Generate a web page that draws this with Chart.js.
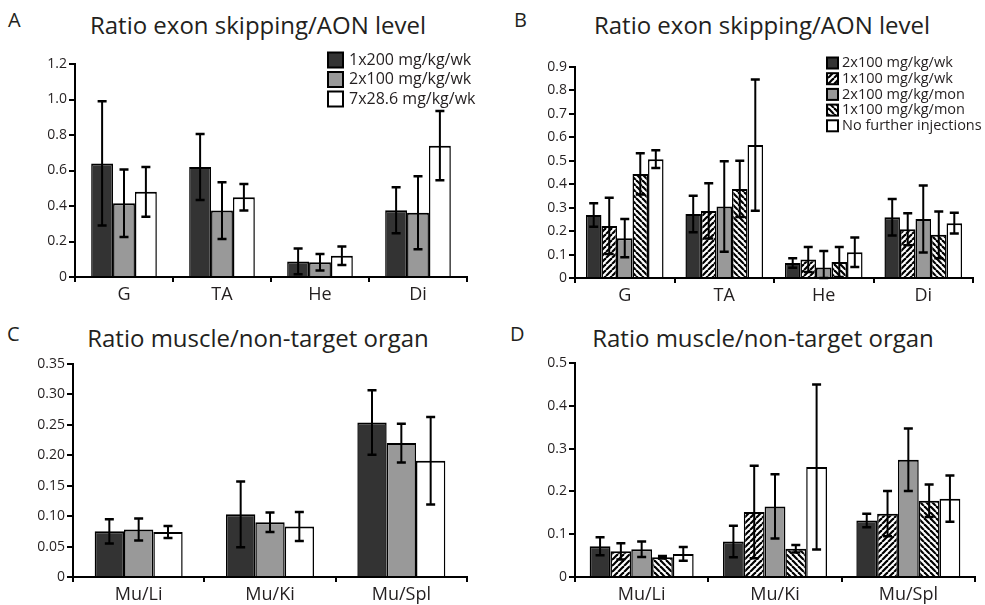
<!DOCTYPE html>
<html>
<head>
<meta charset="utf-8">
<script src="https://cdn.jsdelivr.net/npm/chart.js@4"></script>
<style>
  body { margin: 0; background: #fff; width: 985px; height: 605px; position: relative; overflow: hidden;
         font-family: "Open Sans", sans-serif; color: #231f20; }
  canvas { position: absolute; }
  .ttl { position: absolute; font-size: 24px; line-height: 24px; white-space: nowrap; transform: translateX(-50%); }
  .lab { position: absolute; font-size: 20px; line-height: 20px; }
</style>
</head>
<body>
<div class="lab" style="left:8px;top:10px">A</div>
<div class="lab" style="left:514px;top:10px">B</div>
<div class="lab" style="left:7px;top:324px">C</div>
<div class="lab" style="left:510px;top:324px">D</div>
<div class="ttl" style="left:258px;top:13px">Ratio exon skipping/AON level</div>
<div class="ttl" style="left:762px;top:13px">Ratio exon skipping/AON level</div>
<div class="ttl" style="left:258px;top:326px">Ratio muscle/non-target organ</div>
<div class="ttl" style="left:763px;top:326px">Ratio muscle/non-target organ</div>

<canvas id="cA" width="492" height="302" style="left:0;top:0"></canvas>
<canvas id="cB" width="493" height="302" style="left:492px;top:0"></canvas>
<canvas id="cC" width="492" height="303" style="left:0;top:302px"></canvas>
<canvas id="cD" width="493" height="303" style="left:492px;top:302px"></canvas>

<script>
// --- data: panel A (exon skipping / AON, weekly dosing) ---
const catsA = ['G', 'TA', 'He', 'Di'];
const namesA = ['1x200 mg/kg/wk', '2x100 mg/kg/wk', '7x28.6 mg/kg/wk'];
const a1x200 = [0.64, 0.62, 0.088, 0.376];
const a1x200Err = [0.35, 0.186, 0.072, 0.13];
const a2x100 = [0.415, 0.374, 0.083, 0.362];
const a2x100Err = [0.19, 0.16, 0.047, 0.205];
const a7x28 = [0.48, 0.449, 0.12, 0.74];
const a7x28Err = [0.14, 0.075, 0.052, 0.195];
const ticksA = ['0', '0.2', '0.4', '0.6', '0.8', '1.0', '1.2'];

// --- data: panel B (maintenance schedules) ---
const catsB = ['G', 'TA', 'He', 'Di'];
const namesB = ['2x100 mg/kg/wk', '1x100 mg/kg/wk', '2x100 mg/kg/mon', '1x100 mg/kg/mon', 'No further injections'];
const b2wk = [0.269, 0.273, 0.064, 0.259];
const b2wkErr = [0.05, 0.078, 0.02, 0.078];
const b1wk = [0.222, 0.286, 0.079, 0.208];
const b1wkErr = [0.12, 0.118, 0.053, 0.068];
const b2mon = [0.17, 0.305, 0.045, 0.252];
const b2monErr = [0.082, 0.193, 0.07, 0.143];
const b1mon = [0.444, 0.38, 0.068, 0.184];
const b1monErr = [0.088, 0.12, 0.064, 0.1];
const bNone = [0.507, 0.567, 0.11, 0.234];
const bNoneErr = [0.038, 0.28, 0.063, 0.044];
const ticksB = ['0', '0.1', '0.2', '0.3', '0.4', '0.5', '0.6', '0.7', '0.8', '0.9'];

// --- data: panel C (muscle / non-target organ, weekly dosing) ---
const catsC = ['Mu/Li', 'Mu/Ki', 'Mu/Spl'];
const c1x200 = [0.075, 0.103, 0.254];
const c1x200Err = [0.02, 0.054, 0.053];
const c2x100 = [0.078, 0.09, 0.22];
const c2x100Err = [0.018, 0.016, 0.032];
const c7x28 = [0.074, 0.083, 0.191];
const c7x28Err = [0.01, 0.024, 0.072];
const ticksC = ['0', '0.05', '0.10', '0.15', '0.20', '0.25', '0.30', '0.35'];

// --- data: panel D (muscle / non-target organ, maintenance) ---
const catsD = ['Mu/Li', 'Mu/Ki', 'Mu/Spl'];
const d2wk = [0.072, 0.083, 0.132];
const d2wkErr = [0.021, 0.037, 0.016];
const d1wk = [0.06, 0.152, 0.148];
const d1wkErr = [0.019, 0.108, 0.053];
const d2mon = [0.065, 0.165, 0.274];
const d2monErr = [0.018, 0.075, 0.073];
const d1mon = [0.046, 0.066, 0.178];
const d1monErr = [0.003, 0.009, 0.038];
const dNone = [0.054, 0.257, 0.183];
const dNoneErr = [0.016, 0.193, 0.054];
const ticksD = ['0', '0.1', '0.2', '0.3', '0.4', '0.5'];

const FONT = '"Open Sans", sans-serif';
const INK = '#231f20';
const DARK = '#333333', GREY = '#999999', WHITE = '#ffffff';

// diagonal black/white hatch; dir 1 = '/', -1 = '\'
function hatch(dir) {
  const s = 6, c = document.createElement('canvas');
  c.width = s; c.height = s;
  const g = c.getContext('2d');
  g.fillStyle = '#fff'; g.fillRect(0, 0, s, s);
  g.strokeStyle = '#000'; g.lineWidth = 2.2;
  for (let k = -s; k <= s; k += s) {
    g.beginPath();
    if (dir > 0) { g.moveTo(k, s); g.lineTo(k + s, 0); }
    else { g.moveTo(k, 0); g.lineTo(k + s, s); }
    g.stroke();
  }
  return g.createPattern(c, 'repeat');
}
const HATCH_F = hatch(1), HATCH_B = hatch(-1);

const errorBars = {
  id: 'errorBars',
  afterDatasetsDraw(chart) {
    const ctx = chart.ctx, y = chart.scales.y;
    ctx.save();
    ctx.strokeStyle = '#000';
    chart.data.datasets.forEach((ds, i) => {
      chart.getDatasetMeta(i).data.forEach((bar, j) => {
        const v = ds.data[j], e = ds.err[j];
        const top = y.getPixelForValue(v + e), bot = y.getPixelForValue(Math.max(v - e, 0));
        ctx.lineWidth = 2;
        ctx.beginPath(); ctx.moveTo(bar.x, top); ctx.lineTo(bar.x, bot); ctx.stroke();
        ctx.lineWidth = 2.5;
        ctx.beginPath();
        ctx.moveTo(bar.x - 4.5, top); ctx.lineTo(bar.x + 4.5, top);
        ctx.moveTo(bar.x - 4.5, bot); ctx.lineTo(bar.x + 4.5, bot);
        ctx.stroke();
      });
    });
    ctx.restore();
  }
};

const boxLegend = {
  id: 'boxLegend',
  afterDraw(chart, args, o) {
    if (!o || !o.show) return;
    const ctx = chart.ctx;
    ctx.save();
    ctx.font = o.size + 'px ' + FONT;
    ctx.textBaseline = 'middle';
    chart.data.datasets.forEach((ds, i) => {
      const cy = o.y + i * o.pitch;
      ctx.fillStyle = ds.backgroundColor;
      ctx.fillRect(o.x, cy - o.box / 2, o.box, o.box);
      ctx.lineWidth = 2; ctx.strokeStyle = '#000';
      ctx.strokeRect(o.x, cy - o.box / 2, o.box, o.box);
      ctx.fillStyle = INK;
      ctx.fillText(ds.label, o.x + o.box + o.gap, cy);
    });
    ctx.restore();
  }
};

function makePanel(id, box, area, cats, sets, yMax, yStep, yLabels, pct, legend) {
  const yW = 50, xH = 34;
  const datasets = sets.map(s => ({
    label: s.name, data: s.vals, err: s.err,
    backgroundColor: s.fill, borderColor: '#000',
    borderWidth: { top: 2, left: 1.5, right: 1.5, bottom: 0 }, borderSkipped: false,
    categoryPercentage: pct, barPercentage: 1
  }));
  return new Chart(document.getElementById(id), {
    type: 'bar',
    data: { labels: cats, datasets },
    options: {
      responsive: false, animation: false,
      layout: { padding: {
        left: area[0] - box[0] - yW, top: area[1] - box[1],
        right: box[0] + box[2] - area[2], bottom: box[1] + box[3] - area[3] - xH } },
      plugins: { legend: { display: false }, tooltip: { enabled: false }, title: { display: false },
                 boxLegend: legend },
      scales: {
        x: {
          z: 1,
          afterFit: s => { s.height = xH; },
          grid: { display: true, drawOnChartArea: false, drawTicks: true, tickLength: 5, color: '#000', lineWidth: 2, offset: true },
          border: { display: true, color: '#000', width: 2 },
          ticks: { color: INK, font: { family: FONT, size: 18 }, padding: 2 }
        },
        y: {
          z: 1,
          min: 0, max: yMax,
          afterFit: s => { s.width = yW; },
          grid: { display: true, drawOnChartArea: false, drawTicks: true, tickLength: 6, color: '#000', lineWidth: 2 },
          border: { display: true, color: '#000', width: 2 },
          ticks: { stepSize: yStep, color: INK, font: { family: FONT, size: 14 }, padding: 2,
                   callback: (v, i) => yLabels[i] }
        }
      }
    },
    plugins: [errorBars, boxLegend]
  });
}

makePanel('cA', [0, 0, 492, 302], [75, 64, 467, 277], catsA, [
  { name: namesA[0], vals: a1x200, err: a1x200Err, fill: DARK },
  { name: namesA[1], vals: a2x100, err: a2x100Err, fill: GREY },
  { name: namesA[2], vals: a7x28, err: a7x28Err, fill: WHITE }
], 1.2, 0.2, ticksA, 0.67, { show: true, x: 328, y: 60, pitch: 19.5, box: 15, gap: 6, size: 16 });

makePanel('cB', [492, 0, 493, 302], [575, 67, 973, 278], catsB, [
  { name: namesB[0], vals: b2wk, err: b2wkErr, fill: DARK },
  { name: namesB[1], vals: b1wk, err: b1wkErr, fill: HATCH_F },
  { name: namesB[2], vals: b2mon, err: b2monErr, fill: GREY },
  { name: namesB[3], vals: b1mon, err: b1monErr, fill: HATCH_B },
  { name: namesB[4], vals: bNone, err: bNoneErr, fill: WHITE }
], 0.9, 0.1, ticksB, 0.78, { show: true, x: 335, y: 63, pitch: 15.7, box: 11, gap: 4, size: 14.5 });

makePanel('cC', [0, 302, 492, 303], [73, 364, 467, 577], catsC, [
  { name: namesA[0], vals: c1x200, err: c1x200Err, fill: DARK },
  { name: namesA[1], vals: c2x100, err: c2x100Err, fill: GREY },
  { name: namesA[2], vals: c7x28, err: c7x28Err, fill: WHITE }
], 0.35, 0.05, ticksC, 0.67, { show: false });

makePanel('cD', [492, 302, 493, 303], [575, 363, 975, 577], catsD, [
  { name: namesB[0], vals: d2wk, err: d2wkErr, fill: DARK },
  { name: namesB[1], vals: d1wk, err: d1wkErr, fill: HATCH_F },
  { name: namesB[2], vals: d2mon, err: d2monErr, fill: GREY },
  { name: namesB[3], vals: d1mon, err: d1monErr, fill: HATCH_B },
  { name: namesB[4], vals: dNone, err: dNoneErr, fill: WHITE }
], 0.5, 0.1, ticksD, 0.78, { show: false });
</script>
</body>
</html>
